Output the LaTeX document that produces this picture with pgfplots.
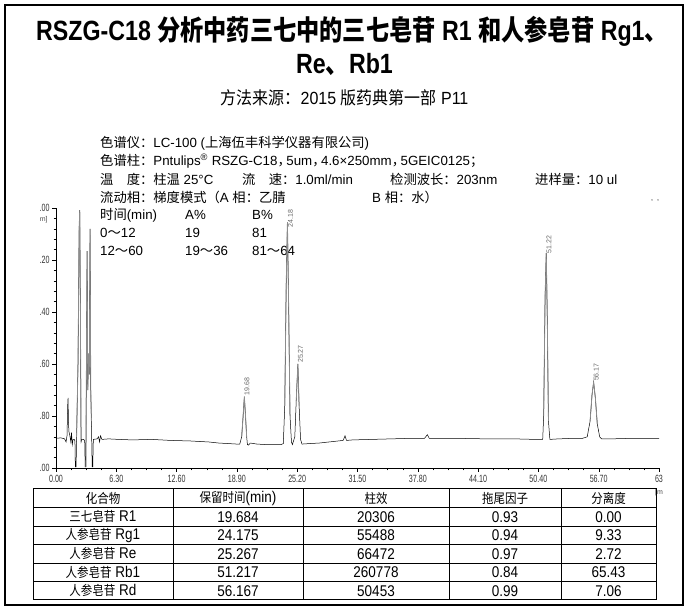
\documentclass[border=0pt]{standalone}
\usepackage{fontspec}
\setmainfont{Liberation Sans}
\newfontfamily\cjk{Noto Sans CJK SC}
\newfontfamily\cjkh[RawFeature=+halt]{Noto Sans CJK SC}
\newcommand{\C}[1]{{\cjk #1}}
\newcommand{\Ch}[1]{{\cjkh #1}}
\newcommand{\Ct}[1]{{\cjk\fontsize{11.5}{14}\selectfont #1}}
\usepackage{pgfplots}
\pgfplotsset{compat=1.18}
\begin{document}
\begin{tikzpicture}[x=1pt,y=1pt]
\useasboundingbox (0,0) rectangle (689,608);
\draw[line width=1.8pt] (5,3) rectangle (683,603);
% titles
\node[font=\fontsize{23.2}{26}\selectfont\bfseries, yscale=1.2] at (352,577) {RSZG-C18 \C{分析中药三七中的三七皂苷} R1 \C{和人参皂苷} Rg1\C{、}};
\node[font=\fontsize{23.2}{26}\selectfont\bfseries, yscale=1.2] at (344.5,544) {Re\C{、}Rb1};
\node[font=\fontsize{16}{18}\selectfont, yscale=1.1] at (344.5,510) {\C{方法来源：}2015 \C{版药典第一部} P11};
% info
\begin{scope}[every node/.style={anchor=west,inner sep=0pt,font=\fontsize{13.3}{15}\selectfont}]
\node at (100,465) {\C{色谱仪：}LC-100 (\C{上海伍丰科学仪器有限公司})};
\node at (100,447) {\C{色谱柱：}Pntulips\textsuperscript{®} RSZG-C18\Ch{，}\,5um\Ch{，}\,4.6×250mm\Ch{，}\,5GEIC0125\C{；}};
\node at (100,429) {\C{温　度：柱温} 25°C};
\node at (242,429) {\C{流　速：}1.0ml/min};
\node at (390,429) {\C{检测波长：}203nm};
\node at (535,429) {\C{进样量：}10 ul};
\node at (100,411) {\C{流动相：梯度模式（}A \C{相：乙腈}};
\node at (372,411) {B \C{相：水）}};
\node at (100,393) {\C{时间}(min)};
\node at (185,393) {A\%};
\node at (252,393) {B\%};
\node at (100,375) {0\C{～}12};
\node at (185,375) {19};
\node at (252,375) {81};
\node at (100,357) {12\C{～}60};
\node at (185,357) {19\C{～}36};
\node at (252,357) {81\C{～}64};
\end{scope}
\node[font=\fontsize{7}{7}\selectfont] at (655,407) {,\hspace{4pt},};
% chromatogram
\begin{axis}[
  at={(56pt,140pt)}, anchor=south west,
  width=603pt, height=260pt, scale only axis,
  xmin=0, xmax=63, ymin=0, ymax=5,
  clip=false,
  axis lines*=left,
  axis line style={black, line width=0.5pt},
  tick align=outside,
  major tick length=4pt, minor tick length=2.5pt,
  every tick/.style={black, line width=0.4pt},
  xtick={0,6.3,12.6,18.9,25.2,31.5,37.8,44.1,50.4,56.7,63},
  xticklabels={0.00,6.30,12.60,18.90,25.20,31.50,37.80,44.10,50.40,56.70,63},
  ytick={0,1,2,3,4,5},
  yticklabels={.00,.80,.60,.40,.20,.00},
  minor x tick num=3, minor y tick num=4,
  tick label style={font=\fontsize{10.5}{10.5}\selectfont, text=black!80, xscale=0.68},
  /pgf/number format/assume math mode=true,
]
\addplot[black, line width=0.5pt] coordinates {
(0,0.57) (0.5,0.58) (0.9,0.56) (1.05,0.5) (1.15,0.62) (1.22,1.2) (1.26,1.35) (1.3,0.9) (1.35,0.7) (1.45,0.62) (1.55,0.5) (1.62,0.68) (1.7,0.45) (1.78,0.55) (1.9,0.55) (1.98,0.52) (2.02,0.02) (2.1,0.02) (2.15,0.6) (2.3,2.0) (2.42,4.6) (2.48,4.96) (2.55,3.0) (2.62,0.5) (2.7,0.55) (2.9,0.55) (3.0,0.52) (3.05,0.02) (3.12,0.02) (3.18,2.0) (3.25,4.17) (3.32,1.5) (3.4,2.2) (3.48,1.8) (3.56,4.6) (3.63,1.5) (3.7,0.9) (3.78,0.02) (3.84,0.02) (3.9,0.55) (4.3,0.56) (4.45,0.6) (4.55,0.5) (4.65,0.62) (4.8,0.55) (5.5,0.56) (6.5,0.55) (8,0.54) (10,0.55) (12,0.53) (14,0.52) (16,0.5) (17,0.48) (18,0.47) (18.9,0.46)
(19.2,0.46) (19.4,0.6) (19.55,1.0) (19.68,1.37) (19.8,1.0) (19.92,0.6) (20.0,0.45) (20.1,0.44) (20.3,0.48)
(21,0.46) (22,0.45) (22.8,0.45) (23.5,0.45) (23.75,0.47)
(23.9,1.2) (24.05,3.5) (24.18,4.73) (24.3,3.2) (24.45,1.0) (24.6,0.5)
(24.7,0.45) (24.95,0.6) (25.1,1.3) (25.27,2.0) (25.4,1.2) (25.55,0.55) (25.7,0.46)
(26.5,0.47) (27.5,0.48) (28.5,0.5) (29.5,0.52) (30.0,0.53) (30.2,0.62) (30.35,0.53) (31,0.54) (33,0.55) (35,0.56) (37,0.57) (38.5,0.57) (38.8,0.64) (39.0,0.57) (40,0.57) (42,0.57) (45,0.56) (48,0.56) (50,0.55) (50.85,0.55)
(50.95,1.0) (51.1,3.3) (51.22,4.13) (51.32,3.0) (51.45,0.9) (51.6,0.55)
(52.5,0.56) (54,0.57) (55,0.57) (55.5,0.6)
(55.8,0.9) (56.0,1.4) (56.17,1.65) (56.35,1.35) (56.55,0.85) (56.8,0.6) (57,0.56)
(58,0.56) (60,0.57) (62,0.57) (63,0.57)
};
\addplot[black!45, line width=0.8pt] coordinates {(2.15,0.6) (2.3,2.0) (2.42,4.6) (2.48,4.96) (2.55,3.0) (2.62,0.5)};
\addplot[black!45, line width=0.8pt] coordinates {(3.12,0.02) (3.18,2.0) (3.25,4.17) (3.32,1.5) (3.4,2.2) (3.48,1.8) (3.56,4.6) (3.63,1.5) (3.7,0.9)};
\addplot[black!45, line width=0.8pt] coordinates {(19.4,0.6) (19.55,1.0) (19.68,1.37) (19.8,1.0) (19.92,0.6)};
\addplot[black!45, line width=0.8pt] coordinates {(23.9,1.2) (24.05,3.5) (24.18,4.73) (24.3,3.2) (24.45,1.0)};
\addplot[black!45, line width=0.8pt] coordinates {(25.1,1.3) (25.27,2.0) (25.4,1.2)};
\addplot[black!45, line width=0.8pt] coordinates {(50.95,1.0) (51.1,3.3) (51.22,4.13) (51.32,3.0) (51.45,0.9)};
\addplot[black!45, line width=0.8pt] coordinates {(55.8,0.9) (56.0,1.4) (56.17,1.65) (56.35,1.35) (56.55,0.85)};
\begin{scope}[every node/.style={rotate=90, anchor=west, font=\fontsize{7}{7}\selectfont, text=black!60, inner sep=1pt}]
\node at (axis cs:19.95,1.38) {19.68};
\node at (axis cs:24.5,4.6) {24.18};
\node at (axis cs:25.55,2.0) {25.27};
\node at (axis cs:51.5,4.1) {51.22};
\node at (axis cs:56.45,1.65) {56.17};
\end{scope}
\node[font=\fontsize{7}{7}\selectfont, text=black!70, anchor=north east] at (axis cs:-0.5,4.9) {m]};
\end{axis}
\node[font=\fontsize{7}{7}\selectfont, text=black!70] at (659,115) {[m};
% table
\begin{scope}[line width=0.7pt]
\draw[line width=1pt] (33,8) rectangle (656,119);
\foreach \y in {100.5,82,63.5,45,26.5} \draw (33,\y) -- (656,\y);
\foreach \x in {173,303,449,561} \draw (\x,8) -- (\x,119);
\end{scope}
\begin{scope}[every node/.style={inner sep=0pt,yscale=1.15,font=\fontsize{13.5}{15}\selectfont}]
\node at (103,109.75) {\Ct{化合物}};
\node at (238,109.75) {\Ct{保留时间}(min)};
\node at (376,109.75) {\Ct{柱效}};
\node at (505,109.75) {\Ct{拖尾因子}};
\node at (608.5,109.75) {\Ct{分离度}};
\node at (103,91.25) {\Ct{三七皂苷} R1};
\node at (238,91.25) {19.684};
\node at (376,91.25) {20306};
\node at (505,91.25) {0.93};
\node at (608.5,91.25) {0.00};
\node at (103,72.75) {\Ct{人参皂苷} Rg1};
\node at (238,72.75) {24.175};
\node at (376,72.75) {55488};
\node at (505,72.75) {0.94};
\node at (608.5,72.75) {9.33};
\node at (103,54.25) {\Ct{人参皂苷} Re};
\node at (238,54.25) {25.267};
\node at (376,54.25) {66472};
\node at (505,54.25) {0.97};
\node at (608.5,54.25) {2.72};
\node at (103,35.75) {\Ct{人参皂苷} Rb1};
\node at (238,35.75) {51.217};
\node at (376,35.75) {260778};
\node at (505,35.75) {0.84};
\node at (608.5,35.75) {65.43};
\node at (103,17.25) {\Ct{人参皂苷} Rd};
\node at (238,17.25) {56.167};
\node at (376,17.25) {50453};
\node at (505,17.25) {0.99};
\node at (608.5,17.25) {7.06};
\end{scope}
\end{tikzpicture}
\end{document}
